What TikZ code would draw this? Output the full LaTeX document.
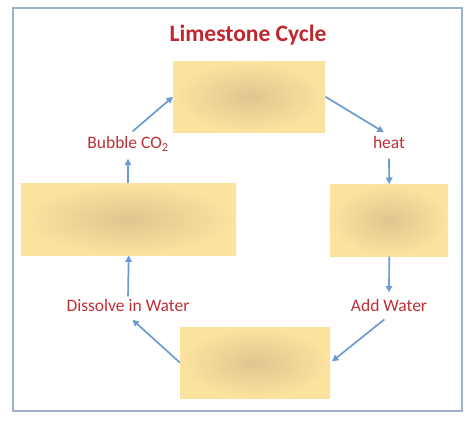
\documentclass[tikz,border=0pt]{standalone}
\usepackage{fontspec}
\setmainfont{Carlito}
\usetikzlibrary{arrows.meta}
\definecolor{framec}{HTML}{9FB0CC}
\definecolor{titlered}{HTML}{C0262D}
\definecolor{labred}{HTML}{BF2F35}
\definecolor{arrowc}{HTML}{6B9BD2}
\definecolor{boxout}{HTML}{FBE39F}
\definecolor{boxin}{HTML}{E2C48F}
\tikzset{
  box/.style={draw=none, inner sep=0pt, shading=radial, inner color=boxin, outer color=boxout, anchor=north west},
  lab/.style={text=labred, font=\fontsize{17.5}{20}\selectfont, inner sep=1pt, text height=12pt, text depth=3pt},
  flow/.style={draw=arrowc, line width=1.7pt, -{Triangle[length=6.5pt,width=6.5pt]}}
}
\begin{document}
\begin{tikzpicture}[x=1pt,y=-1pt]
\useasboundingbox (0,0) rectangle (474,424);
\draw[framec, line width=1.4pt] (13,8) rectangle (462,411);
\node[text=titlered, font=\fontsize{23.5}{26}\bfseries\selectfont] (title) at (248,35) {Limestone Cycle};
\node[box, minimum width=152pt, minimum height=71pt] (top) at (173,61) {};
\node[box, minimum width=215pt, minimum height=72pt] (left) at (21,183) {};
\node[box, minimum width=118pt, minimum height=72pt] (right) at (330,184) {};
\node[box, minimum width=150pt, minimum height=71pt] (bot) at (180,327) {};
\node[lab] (bub) at (128,144) {Bubble CO\textsubscript{2}};
\node[lab] (heat) at (389,144) {heat};
\node[lab] (dis) at (128,307) {Dissolve in Water};
\node[lab] (add) at (389,307) {Add Water};
\draw[flow, shorten <=6pt] (bub.north) -- (top.west);
\draw[flow, shorten >=6pt] (top.east) -- (heat.north);
\draw[flow, shorten <=6pt] (heat.south) -- (right.north);
\draw[flow, shorten >=6pt] (right.south) -- (add.north);
\draw[flow, shorten <=6pt, shorten >=2pt] (add.south) -- (bot.east);
\draw[flow, shorten >=6pt] (bot.west) -- (dis.south);
\draw[flow, shorten <=2pt] (dis.north) -- (left.south);
\draw[flow, shorten >=6pt] (left.north -| bub) -- (bub.south);
\end{tikzpicture}
\end{document}
